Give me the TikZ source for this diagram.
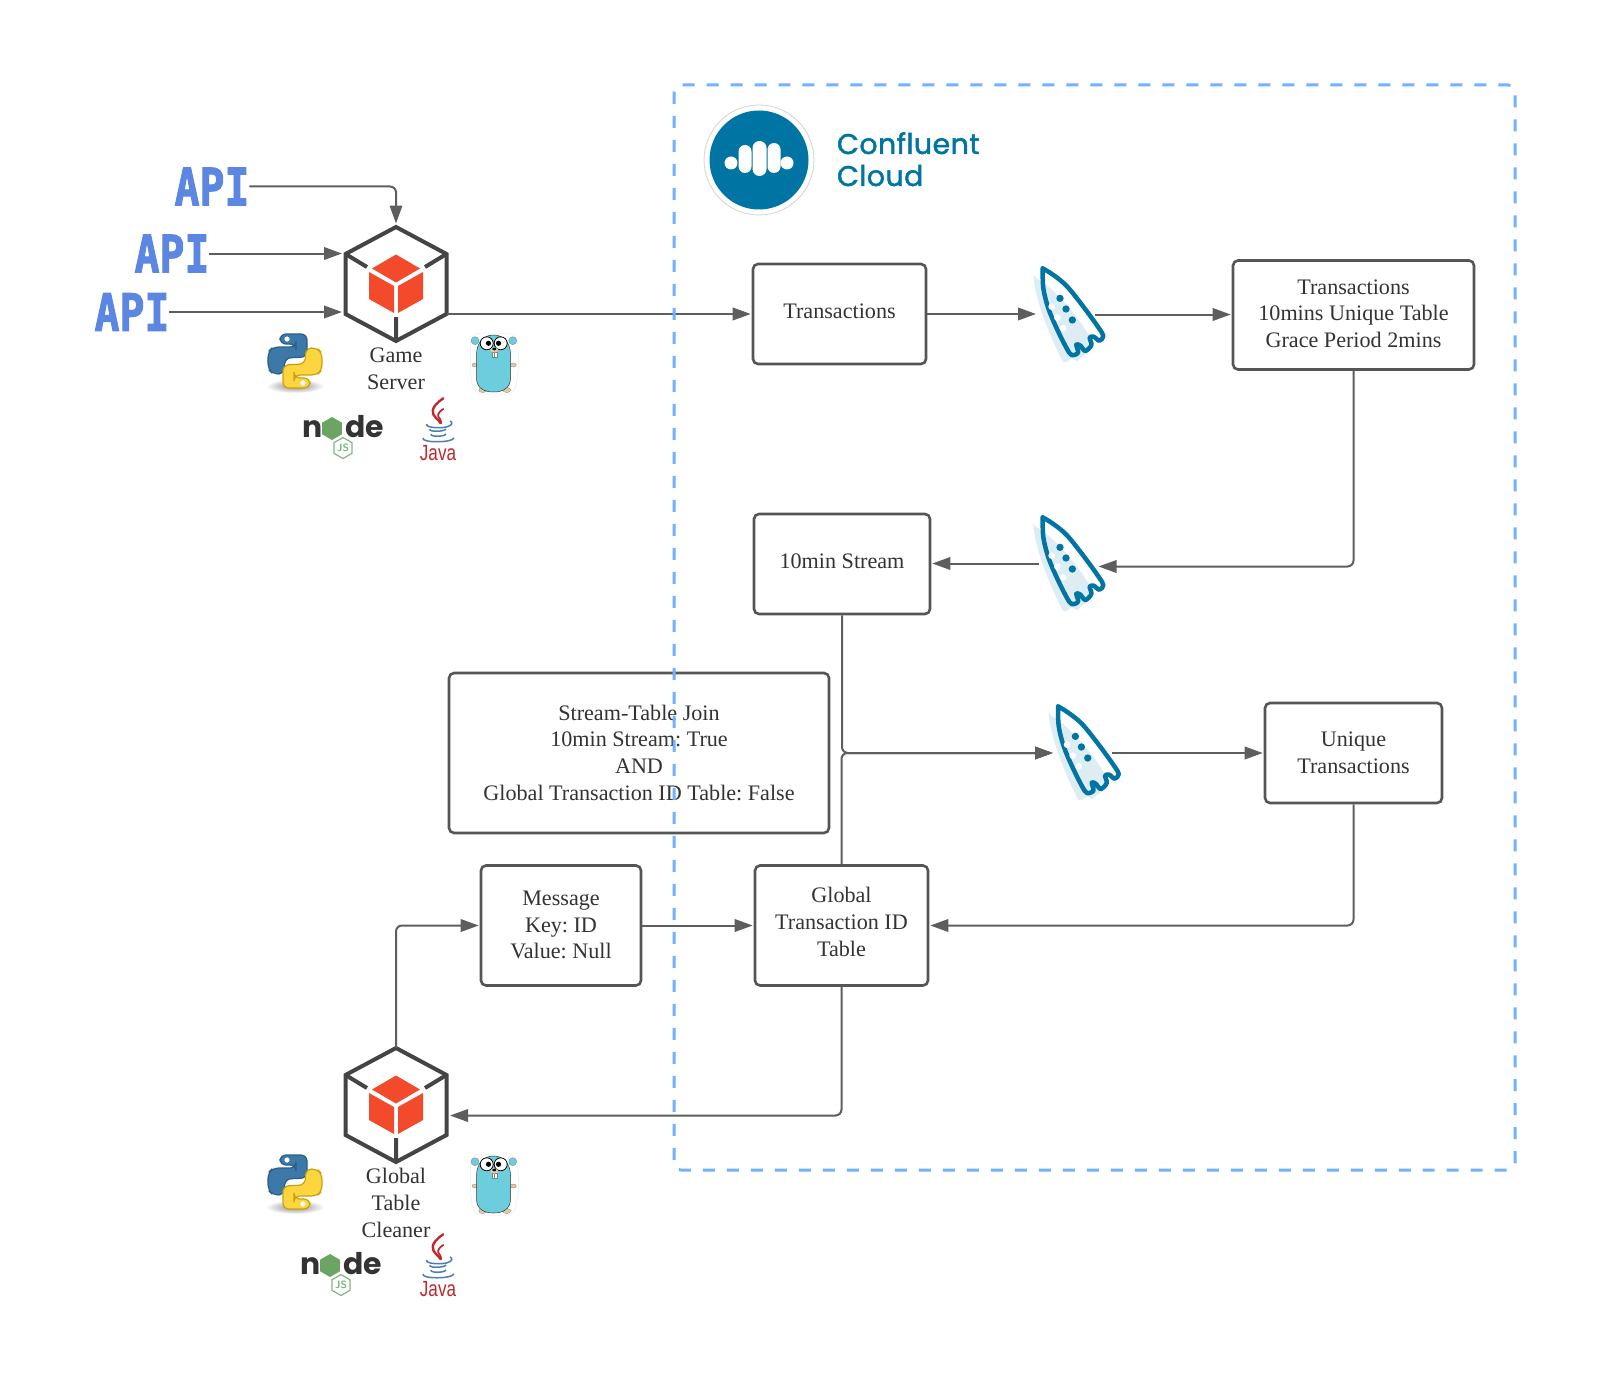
\documentclass[tikz,border=0pt]{standalone}
\usepackage{fontspec}
\usepackage{graphicx}
\setmainfont{Liberation Serif}
\newfontfamily\monof[BoldFeatures={FakeBold=2.2}]{DejaVu Sans Mono}
\newfontfamily\popf{Poppins}
\newfontfamily\cflf[BoldFont={Poppins},BoldFeatures={FakeBold=1.6},LetterSpace=1.5]{Poppins}
\newfontfamily\sansf{Liberation Sans}
\usetikzlibrary{arrows.meta,shapes.geometric}
\definecolor{lineg}{HTML}{5E5E5E}
\definecolor{boxg}{HTML}{555555}
\definecolor{txtg}{HTML}{333333}
\definecolor{dashb}{HTML}{6FB2FF}
\definecolor{apib}{HTML}{5B86E2}
\definecolor{cflb}{HTML}{0074A2}
\definecolor{rockl}{HTML}{DEECF4}
\definecolor{hexg}{HTML}{444444}
\definecolor{cube}{HTML}{F24A2A}
\definecolor{pyb}{HTML}{3C79A8}
\definecolor{pybd}{HTML}{2C5F88}
\definecolor{pyy}{HTML}{FCD53F}
\definecolor{pyyd}{HTML}{C9A10E}
\definecolor{gof}{HTML}{6CCDDD}
\definecolor{tan}{HTML}{E6C9A2}
\definecolor{nodeg}{HTML}{6AA562}
\definecolor{jsg}{HTML}{7FB87F}
\definecolor{javar}{HTML}{C0282D}
\definecolor{javab}{HTML}{4A7FB5}
\def\px{0.56906pt}
\def\rockpath{plot [smooth,tension=.55] coordinates {(128,55) (160,75) (200,108) (250,170) (295,232) (310,258) (298,272) (281,260) (269,263) (274,285) (256,303) (241,287) (229,284) (234,308) (215,315) (200,295) (170,235) (145,175) (130,115) (128,55)}}
\tikzset{
  x=0.02cm,y=-0.02cm,
  txt/.style={font=\fontsize{12.6}{15.2}\selectfont,text=txtg,align=center},
  boxn/.style={txt,draw=boxg,line width=2.6*\px,rounded corners=5*\px,inner sep=0pt,text depth=3pt},
  conn/.style={draw=lineg,line width=2*\px,rounded corners=6*\px,-{Triangle[length=18*\px,width=12.5*\px]},shorten >=1*\px},
  hexconn/.style={conn,shorten >=3.5*\px},
  ghost/.style={inner sep=0pt,outer sep=0pt},
  apin/.style={font=\monof\bfseries\fontsize{23.6}{24}\selectfont,text=apib,inner sep=0pt,outer sep=0pt},
  hexicon/.pic={
    \coordinate (-top) at (0,-57);
    \coordinate (-ur) at (50.5,-30);
    \coordinate (-lr) at (50.5,30);
    \coordinate (-bot) at (0,57);
    \coordinate (-ll) at (-50.5,30);
    \coordinate (-ul) at (-50.5,-30);
    \coordinate (-in) at (50.5,10.5);
    \draw[hexg,line width=4*\px,line join=miter] (-top)--(-ur)--(-lr)--(-bot)--(-ll)--(-ul)--cycle;
    \draw[hexg,line width=4*\px] (-ul)--(-29,-17) (-ur)--(29,-17) (-bot)--(0,33);
    \fill[cube] (0,-29.5)--(24,-15.5)--(0,-1.5)--(-24,-15.5)--cycle;
    \fill[cube] (-27,-12)--(-2,2)--(-2,29)--(-27,15)--cycle;
    \fill[cube] (2,2)--(27,-12)--(27,15)--(2,29)--cycle;
  },
  pylogo/.pic={
    \shade[inner color=gray!95,outer color=white] (0,25) ellipse [x radius=29,y radius=7];
    \foreach \r/\c/\d in {0/pyb/pybd,180/pyy/pyyd}{
      \begin{scope}[rotate=\r]
        \draw[fill=\c,draw=\d,line width=1.2*\px,rounded corners=6*\px] (-15,-27)--(12,-27)--(12,-4)--(-10,-3)--(-11,13)--(-22,13)--(-27,8)--(-27,-9)--(-22,-14)--(1,-14)--(1,-17)--(-15,-17)--cycle;
        \fill[white] (-8,-22) circle [radius=2.6];
      \end{scope}
    }
  },
  gopher/.pic={
    \draw[gray!15,line width=.5*\px,fill=white,rounded corners=9*\px] (-24,-30)--(22,-30)--(24,2)--(20,31)--(-22,31)--(-25,2)--cycle;
    \foreach \x/\y in {-20/-22.3,17.7/-22.3}{
      \fill[gof,draw=gray,line width=.3*\px] (\x,\y) circle [radius=4];
    }
    \foreach \x/\y in {-20/2,18.3/2}{
      \fill[tan,draw=gray,line width=.3*\px] (\x,\y) ellipse [x radius=3,y radius=2];
    }
    \foreach \x/\y in {-12.3/27,11.7/27}{
      \fill[tan,draw=gray,line width=.3*\px] (\x,\y) ellipse [x radius=4,y radius=2.5];
    }
    \fill[gof,draw=txtg,line width=.5*\px] (-18.5,-8) .. controls (-18.5,-22) and (-10,-28) .. (-1.5,-28) .. controls (7,-28) and (15.5,-22) .. (15.5,-8) -- (15.5,15) .. controls (15.5,25) and (8,29) .. (-1.5,29) .. controls (-11,29) and (-18.5,25) .. (-18.5,15) -- cycle;
    \fill[white,draw=black,line width=.8*\px] (-8.3,-19.7) circle [radius=6.5];
    \fill[white,draw=black,line width=.8*\px] (5.7,-19.7) circle [radius=6.5];
    \fill[black] (-6.5,-19.7) circle [radius=2.6];
    \fill[black] (3.5,-19.7) circle [radius=2.6];
    \fill[white,draw=gray,line width=.4*\px] (-3,-11) rectangle (2,-5.5);
    \draw[gray,line width=.3*\px] (-.5,-11) -- (-.5,-5.5);
    \fill[tan] (-.7,-13) ellipse [x radius=4,y radius=2.5];
    \fill[black] (-.7,-14) ellipse [x radius=2,y radius=1.3];
  },
  nodelogo/.pic={
    \node[ghost,anchor=base,font=\popf\bfseries\fontsize{17}{17}\selectfont,text=txtg] (-n) at (-30,10) {n};
    \node[regular polygon,regular polygon sides=6,rotate=30,fill=nodeg,minimum size=23*\px,inner sep=0pt] (-h) at (-11,1.5) {};
    \node[ghost,anchor=base,font=\popf\bfseries\fontsize{17}{17}\selectfont,text=txtg] (-d) at (22,10) {de};
    \node[regular polygon,regular polygon sides=6,rotate=30,draw=jsg,line width=1.2*\px,minimum size=21*\px,inner sep=0pt] (-j) at (0,21) {};
    \node[ghost,font=\sffamily\bfseries\fontsize{6}{6}\selectfont,text=jsg] (-js) at (0,21) {JS};
  },
  javalogo/.pic={
    \draw[javar,line width=2.4*\px,line cap=round] (5.3,-31.7) .. controls (-9,-22) and (-6,-16) .. (-2,-12) .. controls (1,-9) and (2,-8) .. (2.7,-6.7);
    \draw[javar,line width=1.8*\px,line cap=round] (5.3,-21) .. controls (-1,-17) and (-1,-14) .. (2,-11) .. controls (3,-9) and (3,-8) .. (3,-7);
    \draw[javab,line width=1.5*\px] (-11,-6) .. controls (-14,-2) and (6,-1) .. (11,-4) .. controls (14,-5) and (15,-8) .. (12,-9);
    \draw[javab,line width=1.5*\px] (-8,-1) .. controls (-10,2) and (6,2) .. (8,-1);
    \draw[javab,line width=1.5*\px] (-7,4) .. controls (-8,7) and (6,7) .. (8,4);
    \draw[javab,line width=1.5*\px] (-15,8) .. controls (-17,13) and (14,13) .. (16,8);
    \node[ghost,font=\sansf\fontsize{12.5}{13}\selectfont,text=javar] (-t) at (0,23) {\scalebox{.78}[1]{Java}};
  },
  rocket/.pic={
    \begin{scope}[x=0.00667cm,y=-0.00667cm]
      \fill[white] \rockpath -- cycle;
      \fill[rockl,rounded corners=2pt] (100,80) .. controls (150,105) and (225,185) .. (270,262) -- (262,312) -- (240,322) -- (232,338) -- (218,322) -- (192,342) .. controls (150,260) and (110,160) .. (100,80) -- cycle;
      \draw[cflb,line width=4.5*\px,line join=round,line cap=round] \rockpath;
      \fill[cflb] (180,145) circle [radius=11] (198,177) circle [radius=11] (217,210) circle [radius=11];
      \fill[white] (155,170) circle [radius=10] (172,203) circle [radius=10] (190,235) circle [radius=10];
    \end{scope}
  }
}
\begin{document}
\frenchspacing
\begin{tikzpicture}
\useasboundingbox (0,0) rectangle (1608,1382);
\fill[white] (0,0) rectangle (1608,1382);

% boxes
\node[boxn,minimum width=173*\px,minimum height=100*\px] (T) at (839.5,314) {Transactions};
\node[boxn,text depth=1.8pt,minimum width=241*\px,minimum height=109*\px] (U) at (1353.5,315) {Transactions\\10mins Unique Table\\Grace Period 2mins};
\node[boxn,minimum width=176*\px,minimum height=100*\px] (S) at (842,564) {10min Stream};
\node[boxn,text depth=0.6pt,minimum width=380*\px,minimum height=160*\px] (J) at (639,753) {Stream-Table Join\\10min Stream: True\\AND\\Global Transaction ID Table: False};
\node[boxn,text depth=0.6pt,minimum width=177*\px,minimum height=100*\px] (R) at (1353.5,753) {Unique\\Transactions};
\node[boxn,text depth=0.6pt,minimum width=160*\px,minimum height=120*\px] (M) at (561,925.5) {Message\\Key: ID\\Value: Null};
\node[boxn,text depth=4.2pt,minimum width=173*\px,minimum height=120*\px] (G) at (841.5,925.5) {Global\\Transaction ID\\Table};

% API labels
\node[apin] (a1) at (212,186.5) {\scalebox{1}[1.24]{API}};
\node[apin] (a2) at (172,253.5) {\scalebox{1}[1.24]{API}};
\node[apin] (a3) at (132,312) {\scalebox{1}[1.24]{API}};

% rocket anchors
\node[ghost,minimum width=58*\px,minimum height=2*\px] (k1) at (1066,314.5) {};
\node[ghost,minimum width=59*\px,minimum height=3*\px] (k2) at (1068,565) {};
\node[ghost,minimum width=58*\px,minimum height=2*\px] (k3) at (1083,753) {};

% hexagons
\pic (gs) at (396,284) {hexicon};
\pic (gc) at (396,1105) {hexicon};

% connectors
\draw[hexconn] (a1.east) -| (gs-top);
\draw[hexconn] (a2.east) -- (a2.east -| gs-ul);
\draw[hexconn] (a3.east) -- (a3.east -| gs-ll);
\draw[conn] (gs-lr) -- (gs-lr -| T.west);
\draw[conn] (T.east) -- (T.east -| k1.west);
\draw[conn] (k1.east) -- (k1.east -| U.west);
\draw[conn] (U.south) |- (k2.south east);
\draw[conn] (k2.north west) -- (k2.north west -| S.east);
\draw[conn] (S.south) |- (k3.west);
\draw[conn] (G.north) |- (k3.west);
\draw[conn] (k3.east) -- (R.west);
\draw[conn] (R.south) |- (G.east);
\draw[conn] (M.east) -- (G.west);
\draw[conn] (gc-top) |- (M.west);
\draw[hexconn] (G.south) |- (gc-in);

% rockets
\pic at (1000,250) {rocket};
\pic at (1000,499) {rocket};
\pic at (1015.4,688) {rocket};

% labels
\node[txt,inner sep=0pt] (lg) at (396,368.5) {Game\\Server};
\node[txt,inner sep=0pt] (lc) at (396,1203) {Global\\Table\\Cleaner};

% language icons
\pic (p1) at (295,361) {pylogo};
\pic (p2) at (295,1182) {pylogo};
\pic (g1) at (495,363) {gopher};
\pic (g2) at (495,1184) {gopher};
\pic (n1) at (343,427) {nodelogo};
\pic (n2) at (341,1264) {nodelogo};
\pic (j1) at (438,430) {javalogo};
\pic (j2) at (438,1266) {javalogo};

% Confluent logo
\draw[gray!35,line width=.8*\px] (759,160) circle [radius=55];
\fill[cflb] (759,160) circle [radius=49.5];
\fill[white] (731,163) circle [radius=6.5] (787,163) circle [radius=6.5];
\fill[white,rounded corners=6.5*\px] (738.5,145) rectangle (751.5,173);
\fill[white,rounded corners=7*\px] (752.5,141) rectangle (766.5,176);
\fill[white,rounded corners=6.5*\px] (767.5,143) rectangle (780.5,173);
\node[anchor=base west,ghost,font=\cflf\bfseries\fontsize{16.2}{16}\selectfont,text=cflb] (c1) at (837,154) {Confluent};
\node[anchor=base west,ghost,font=\cflf\bfseries\fontsize{16.2}{16}\selectfont,text=cflb] (c2) at (837,186) {Cloud};

% dashed frame
\draw[dashb,line width=3*\px,rounded corners=7*\px,dash pattern=on 12*\px off 12*\px] (674,85) rectangle (1515,1170);
\end{tikzpicture}
\end{document}
